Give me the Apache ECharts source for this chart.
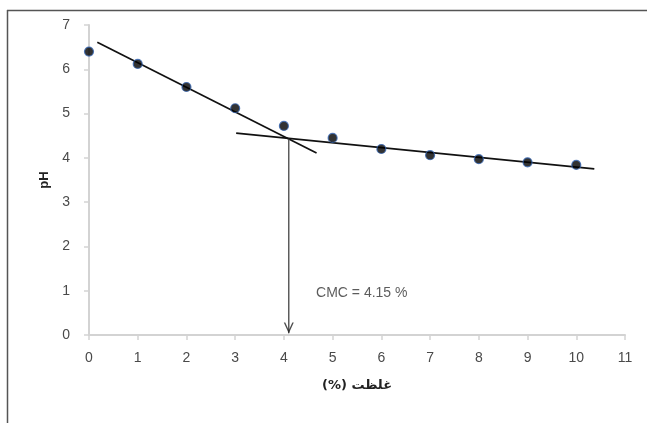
<!DOCTYPE html>
<html><head><meta charset="utf-8">
<script src="https://cdn.jsdelivr.net/npm/echarts@6/dist/echarts.min.js"></script>
<style>html,body{margin:0;padding:0;background:#fff}#c{width:647px;height:423px}</style>
</head><body><div id="c"></div>
<script>
const concentration = [0,1,2,3,4,5,6,7,8,9,10];
const phValues = [6.40,6.12,5.60,5.12,4.72,4.45,4.20,4.06,3.97,3.90,3.84];
const trendLine1 = [[0.17,6.61],[4.67,4.11]];
const trendLine2 = [[3.02,4.56],[10.37,3.75]];
const cmcValue = 4.1;
const cmcLine = [[cmcValue,4.43],[cmcValue,0.04]];
const cmcLabelPos = [[4.66,0.95]];
const cmcText = 'CMC = 4.15 %';
const xTitle = '(%) غلظت';
const yTitle = 'pH';

const chart = echarts.init(document.getElementById('c'));
const axisCol = '#d3d3d3';
const labelCol = '#4a4a4a';
chart.setOption({
  animation:false,
  grid:{left:89,right:22,top:25,bottom:88},
  graphic:[
    {type:'line',shape:{x1:7,y1:10.5,x2:647,y2:10.5},style:{stroke:'#555',lineWidth:1.5}},
    {type:'line',shape:{x1:7.5,y1:10,x2:7.5,y2:423},style:{stroke:'#555',lineWidth:1.5}}
  ],
  xAxis:{type:'value',min:0,max:11,interval:1,
    name:xTitle,nameLocation:'middle',nameGap:44,
    nameTextStyle:{fontFamily:'DejaVu Sans',fontWeight:'bold',fontSize:13,color:'#222'},
    axisLine:{lineStyle:{color:axisCol,width:2}},
    axisTick:{show:true,length:5,lineStyle:{color:axisCol,width:1.5}},
    axisLabel:{color:labelCol,fontSize:14,fontFamily:'Liberation Sans',margin:16},
    splitLine:{show:false}},
  yAxis:{type:'value',min:0,max:7,interval:1,
    name:yTitle,nameLocation:'middle',nameGap:29,nameRotate:90,
    nameTextStyle:{fontFamily:'Liberation Sans',fontWeight:'bold',fontSize:13,color:'#222'},
    axisLine:{show:true,lineStyle:{color:axisCol,width:2}},
    axisTick:{show:true,length:5,lineStyle:{color:axisCol,width:1.5}},
    axisLabel:{color:labelCol,fontSize:14,fontFamily:'Liberation Sans',margin:19},
    splitLine:{show:false}},
  series:[
    {type:'line',data:trendLine1,symbol:'none',lineStyle:{color:'#111',width:1.7},z:3},
    {type:'line',data:trendLine2,symbol:'none',lineStyle:{color:'#111',width:1.7},z:3},
    {type:'line',data:cmcLine,symbol:'none',lineStyle:{color:'#444',width:1.3},z:3},
    {type:'scatter',data:[[cmcValue,0]],symbol:'path://M0 0 L5 10 L10 0 L8.5 0 L5 7 L1.5 0 Z',
      symbolSize:[10,11],symbolOffset:[0,-7],itemStyle:{color:'#222'},z:4},
    {type:'scatter',data:concentration.map((x,i)=>[x,phValues[i]]),symbolSize:9,
      itemStyle:{color:'#000',borderColor:'#3464b0',borderWidth:1.2},z:5},
    {type:'scatter',data:cmcLabelPos,symbolSize:0,
      label:{show:true,position:'right',distance:0,formatter:cmcText,
        fontFamily:'Liberation Sans',fontSize:14,color:'#333'},z:5}
  ]
});
</script></body></html>
